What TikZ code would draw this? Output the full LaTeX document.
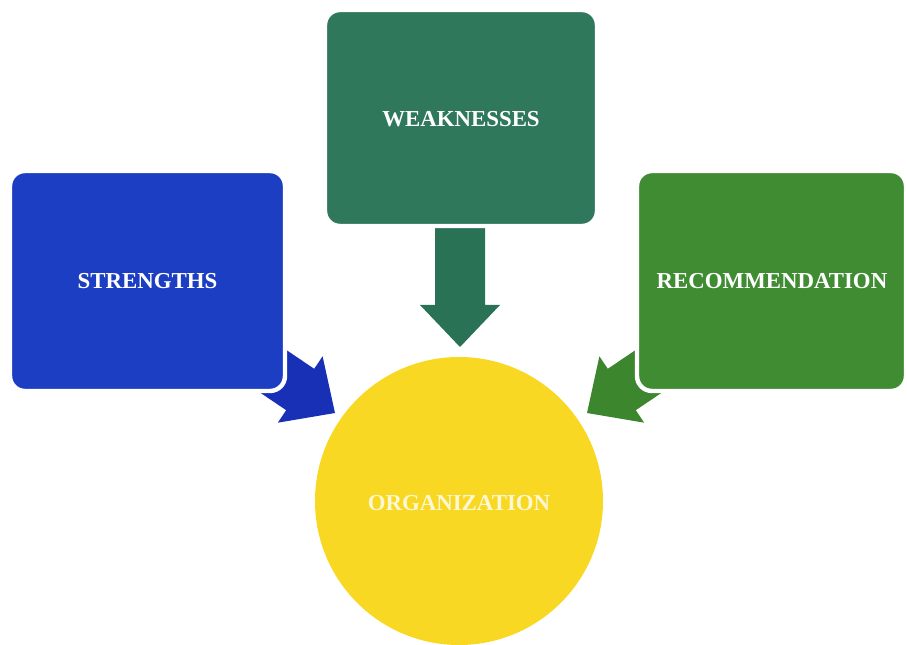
\documentclass[tikz,border=0pt]{standalone}
\usepackage{fontspec}
\setmainfont{Liberation Serif}
\definecolor{sblue}{RGB}{28,62,194}
\definecolor{ablue}{RGB}{24,48,182}
\definecolor{wteal}{RGB}{48,120,92}
\definecolor{ateal}{RGB}{42,114,86}
\definecolor{rgreen}{RGB}{64,140,50}
\definecolor{agreen}{RGB}{60,134,46}
\definecolor{oyellow}{RGB}{248,216,34}
\begin{document}
\begin{tikzpicture}[x=0.02cm,y=-0.02cm,
  box/.style={draw=white,line width=2.5pt,rounded corners=0.3cm},
  lbl/.style={font=\fontsize{13}{15}\selectfont\bfseries,text=white},
  fat/.style={draw=none}]
\useasboundingbox (0,0) rectangle (907,645);
% circle
\fill[oyellow] (459,501) circle (144);
\node[lbl,text opacity=0.8] (org) at (459,503) {ORGANIZATION};
% arrows
\fill[ateal,fat] (435,228) -- (485,228) -- (485,305) -- (500,305) -- (460,347) -- (420,305) -- (435,305) -- cycle;
\fill[ablue,fat] (239.6,318.5) -- (314.2,368.8) -- (322.6,356.3) -- (335,413) -- (277.8,422.7) -- (286.2,410.2) -- (211.6,359.9) -- cycle;
\fill[agreen,fat] (682.4,318.5) -- (607.8,368.8) -- (599.4,356.3) -- (587,413) -- (644.2,422.7) -- (635.8,410.2) -- (710.4,359.9) -- cycle;
% boxes
\filldraw[box,fill=sblue] (10,171) rectangle (285,391);
\node[lbl] (str) at (147.5,281) {STRENGTHS};
\filldraw[box,fill=wteal] (325,10) rectangle (597,226);
\node[lbl] (wea) at (461,119) {WEAKNESSES};
\filldraw[box,fill=rgreen] (637,171) rectangle (906,391);
\node[lbl] (rec) at (772,281) {RECOMMENDATION};
\end{tikzpicture}
\end{document}
